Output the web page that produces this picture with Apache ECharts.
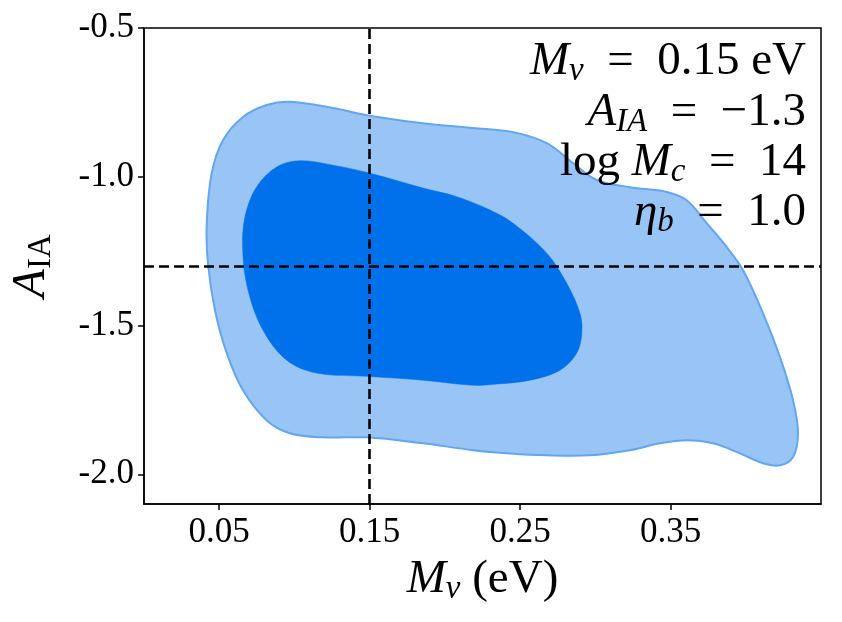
<!DOCTYPE html>
<html lang="en">
<head>
<meta charset="UTF-8">
<title>Mnu vs A_IA contours</title>
<script src="https://cdn.jsdelivr.net/npm/echarts@6/dist/echarts.min.js"></script>
<style>
  html, body { margin: 0; padding: 0; background: #fff; }
  #chart { width: 842px; height: 622px; }
</style>
</head>
<body>
<div id="chart"></div>
<script>
// 95% contour (outer)
var outerX = [0.0417, 0.0450, 0.0525, 0.0658, 0.0816, 0.0970, 0.1256, 0.1480, 0.1855, 0.2187,
  0.2453, 0.2677, 0.2852, 0.3009, 0.3231, 0.3474, 0.3607, 0.3740, 0.3873, 0.3982,
  0.4115, 0.4228, 0.4314, 0.4347, 0.4314, 0.4228, 0.4115, 0.3962, 0.3782, 0.3607,
  0.3430, 0.3231, 0.2965, 0.2677, 0.2433, 0.2187, 0.1855, 0.1480, 0.1190, 0.0970,
  0.0816, 0.0658, 0.0550, 0.0472, 0.0425];
var outerY = [-1.156, -0.988, -0.877, -0.799, -0.759, -0.748, -0.769, -0.793, -0.820, -0.836,
  -0.850, -0.887, -0.954, -1.011, -1.035, -1.051, -1.079, -1.156, -1.236, -1.314,
  -1.459, -1.607, -1.751, -1.862, -1.942, -1.970, -1.963, -1.930, -1.896, -1.886,
  -1.896, -1.919, -1.936, -1.936, -1.930, -1.919, -1.896, -1.876, -1.876, -1.862,
  -1.819, -1.718, -1.593, -1.449, -1.290];

// 68% contour (inner)
var innerX = [0.0656, 0.0671, 0.0749, 0.0882, 0.1037, 0.1256, 0.1502, 0.1855, 0.2079, 0.2300,
  0.2453, 0.2677, 0.2810, 0.2898, 0.2910, 0.2876, 0.2765, 0.2566, 0.2344, 0.2187,
  0.1855, 0.1480, 0.1148, 0.0949, 0.0791, 0.0691];
var innerY = [-1.247, -1.135, -1.034, -0.967, -0.946, -0.961, -0.988, -1.038, -1.067, -1.112,
  -1.156, -1.257, -1.358, -1.459, -1.526, -1.593, -1.650, -1.684, -1.697, -1.701,
  -1.684, -1.671, -1.660, -1.617, -1.516, -1.381];

// fiducial values
var truthMnu = 0.15;
var truthAIA = -1.3;

var xTicks = [0.05, 0.15, 0.25, 0.35];
var yTicks = [-2.0, -1.5, -1.0, -0.5];

var serif = 'Liberation Serif';

function toPairs(xs, ys) {
  var res = [];
  for (var i = 0; i < xs.length; i++) {
    res.push([xs[i], ys[i]]);
  }
  return res;
}

function polygonRenderer(xs, ys, fill, stroke, lw) {
  return function (params, api) {
    if (params.dataIndex !== 0) return;
    var pts = [];
    for (var i = 0; i < xs.length; i++) {
      pts.push(api.coord([xs[i], ys[i]]));
    }
    return {
      type: 'polygon',
      shape: { points: pts, smooth: 0.35 },
      style: { fill: fill, stroke: stroke, lineWidth: lw }
    };
  };
}

var mathRich = {
  i: { fontFamily: serif, fontStyle: 'italic', fontSize: 47, lineHeight: 52, color: '#000' },
  r: { fontFamily: serif, fontSize: 47, lineHeight: 52, color: '#000' },
  s: { fontFamily: serif, fontStyle: 'italic', fontSize: 33, lineHeight: 32, verticalAlign: 'bottom', color: '#000' },
  su: { fontFamily: serif, fontSize: 33, lineHeight: 32, verticalAlign: 'bottom', color: '#000' }
};

// en spaces around "=" to get closer to TeX relation spacing
var EQ = '\u2002=\u2002';
var annLines = [
  '{i|M}{s|ν}{r|' + EQ + '0.15 eV}',
  '{i|A}{s|IA}{r|' + EQ + '−1.3}',
  '{r|log }{i|M}{s|c}{r|' + EQ + '14}',
  '{i|η}{s|b}{r|' + EQ + '1.0}'
];
var annY = [62, 113, 163, 213];

var graphics = [];
for (var k = 0; k < annLines.length; k++) {
  graphics.push({
    type: 'text',
    x: 806,
    y: annY[k],
    z: 100,
    style: {
      text: annLines[k],
      rich: mathRich,
      align: 'right',
      verticalAlign: 'middle'
    }
  });
}

var myChart = echarts.init(document.getElementById('chart'));

var option = {
  animation: false,
  backgroundColor: '#fff',
  grid: {
    left: 144, right: 21, top: 28, bottom: 118,
    show: true, borderColor: '#000', borderWidth: 1.5, backgroundColor: 'transparent'
  },
  xAxis: {
    type: 'value',
    min: 0, max: 0.45,
    name: '{i|M}{s|ν}{r| (eV)}',
    nameLocation: 'middle',
    nameGap: 50,
    nameTextStyle: { rich: mathRich },
    axisLine: { show: true, onZero: false, lineStyle: { color: '#000', width: 1.5 } },
    axisTick: { show: true, length: 6, customValues: xTicks, lineStyle: { color: '#000', width: 1.5 } },
    axisLabel: {
      customValues: xTicks,
      color: '#000', fontFamily: serif, fontSize: 35, margin: 11,
      formatter: function (v) { return v.toFixed(2); }
    },
    splitLine: { show: false }
  },
  yAxis: {
    type: 'value',
    min: -2.1, max: -0.5,
    name: '{i|A}{su|IA}',
    nameLocation: 'middle',
    nameGap: 86,
    nameTextStyle: { rich: mathRich },
    axisLine: { show: true, onZero: false, lineStyle: { color: '#000', width: 1.5 } },
    axisTick: { show: true, length: 6, customValues: yTicks, lineStyle: { color: '#000', width: 1.5 } },
    axisLabel: {
      customValues: yTicks,
      color: '#000', fontFamily: serif, fontSize: 35, margin: 10,
      formatter: function (v) { return v.toFixed(1); }
    },
    splitLine: { show: false }
  },
  graphic: graphics,
  series: [
    {
      name: 'outer',
      type: 'custom',
      renderItem: polygonRenderer(outerX, outerY, '#99c5f6', '#62a6f2', 2),
      data: toPairs(outerX, outerY),
      encode: { x: 0, y: 1 },
      silent: true,
      z: 2
    },
    {
      name: 'inner',
      type: 'custom',
      renderItem: polygonRenderer(innerX, innerY, '#0070eb', '#0070eb', 0.5),
      data: toPairs(innerX, innerY),
      encode: { x: 0, y: 1 },
      silent: true,
      z: 3,
      markLine: {
        silent: true,
        symbol: 'none',
        label: { show: false },
        lineStyle: { color: '#000', width: 2.6, type: [10, 5] },
        data: [{ xAxis: truthMnu }, { yAxis: truthAIA }]
      }
    }
  ]
};

myChart.setOption(option);
</script>
</body>
</html>
